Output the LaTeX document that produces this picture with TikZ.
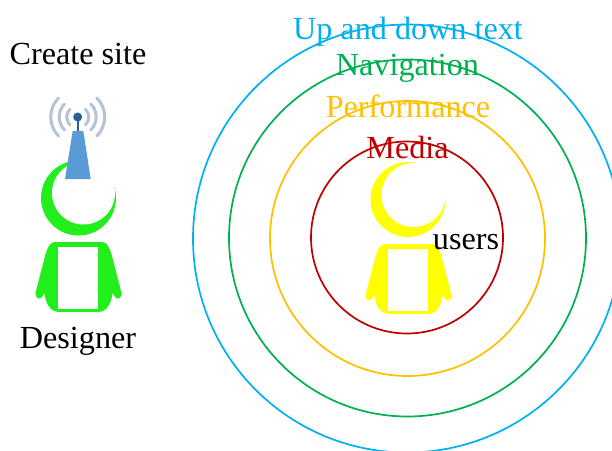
\documentclass[tikz,border=0pt]{standalone}
\usepackage{fontspec}
\setmainfont{Liberation Serif}
\definecolor{hgreen}{HTML}{22EE1C}
\definecolor{hyellow}{HTML}{FFFF00}
\definecolor{cblue}{HTML}{00B0F0}
\definecolor{cgreen}{HTML}{00B050}
\definecolor{corange}{HTML}{FFC000}
\definecolor{cred}{HTML}{C00000}
\definecolor{wave}{HTML}{B4C4D6}
\definecolor{tower}{HTML}{5B9BD5}
\definecolor{ball}{HTML}{2A6099}
\tikzset{
  lbl/.style={inner sep=0pt,anchor=base,font=\fontsize{32.2}{36}\selectfont},
  ring/.style={line width=1.7pt},
  wavearc/.style={draw=wave,line width=3pt,line cap=round}
}
\newcommand{\person}[3]{%
  \begin{scope}[shift={(#1,#2)}]
    \fill[#3] (-24,0) -- (24,0)
      .. controls (29,0) and (32,8) .. (34,16)
      -- (43,51) .. controls (44,56) and (38,59) .. (36,54)
      -- (34,51)
      .. controls (33,62) and (28,70) .. (19,70)
      -- (-19,70)
      .. controls (-28,70) and (-33,62) .. (-34,51)
      -- (-36,54)
      .. controls (-38,59) and (-44,56) .. (-43,51)
      -- (-34,16)
      .. controls (-32,8) and (-29,0) .. (-24,0) -- cycle;
    \fill[white] (-20.5,5) rectangle (19.5,67);
  \end{scope}}
\newcommand{\wavepair}[1]{%
  \draw[wavearc] ([shift={(135:#1)}]towerc) arc[start angle=135,end angle=225,radius=#1];
  \draw[wavearc] ([shift={(45:#1)}]towerc) arc[start angle=45,end angle=-45,radius=#1];}
\begin{document}
\begin{tikzpicture}[x=1pt,y=-1pt]
  \useasboundingbox (0,0) rectangle (612,450);
  \clip (0,0) rectangle (612,450);
  \fill[white] (0,0) rectangle (612,450);
  % rings
  \draw[ring,cblue]  (407,238.5) circle[radius=214];
  \draw[ring,cgreen] (407.5,238) circle[radius=178.5];
  \draw[ring,corange](407.5,238.5) circle[radius=137.5];
  \draw[ring,cred]   (407,237.5) circle[radius=96];
  % designer
  \fill[hgreen] (78.5,198) circle[radius=37.5];
  \fill[white] (83.5,193) circle[radius=31.5];
  \person{78.5}{242}{hgreen}
  % tower
  \coordinate (towerc) at (77.7,117);
  \wavepair{11pt}
  \wavepair{18.5pt}
  \wavepair{27pt}
  \draw[ball,line width=2pt] (towerc) -- (77.7,132);
  \fill[tower] (72.7,131) -- (83.3,131) -- (90.7,179) -- (65,179) -- cycle;
  \fill[ball] (towerc) circle[radius=4.5];
  % user
  \fill[hyellow] (408,199.5) circle[radius=37.5];
  \fill[white] (413.5,195) circle[radius=32];
  \person{408.5}{244}{hyellow}
  % labels
  \node[lbl] (create) at (78,64) {Create site};
  \node[lbl] (designer) at (78,348.6) {Designer};
  \node[lbl,text=cblue] (updown) at (408,39.6) {Up and down text};
  \node[lbl,text=cgreen] (nav) at (407.5,75.6) {Navigation};
  \node[lbl,text=corange] (perf) at (408,117.5) {Performance};
  \node[lbl,text=cred] (media) at (407.5,158.7) {Media};
  \node[lbl] (users) at (466,249.3) {users};
\end{tikzpicture}
\end{document}
